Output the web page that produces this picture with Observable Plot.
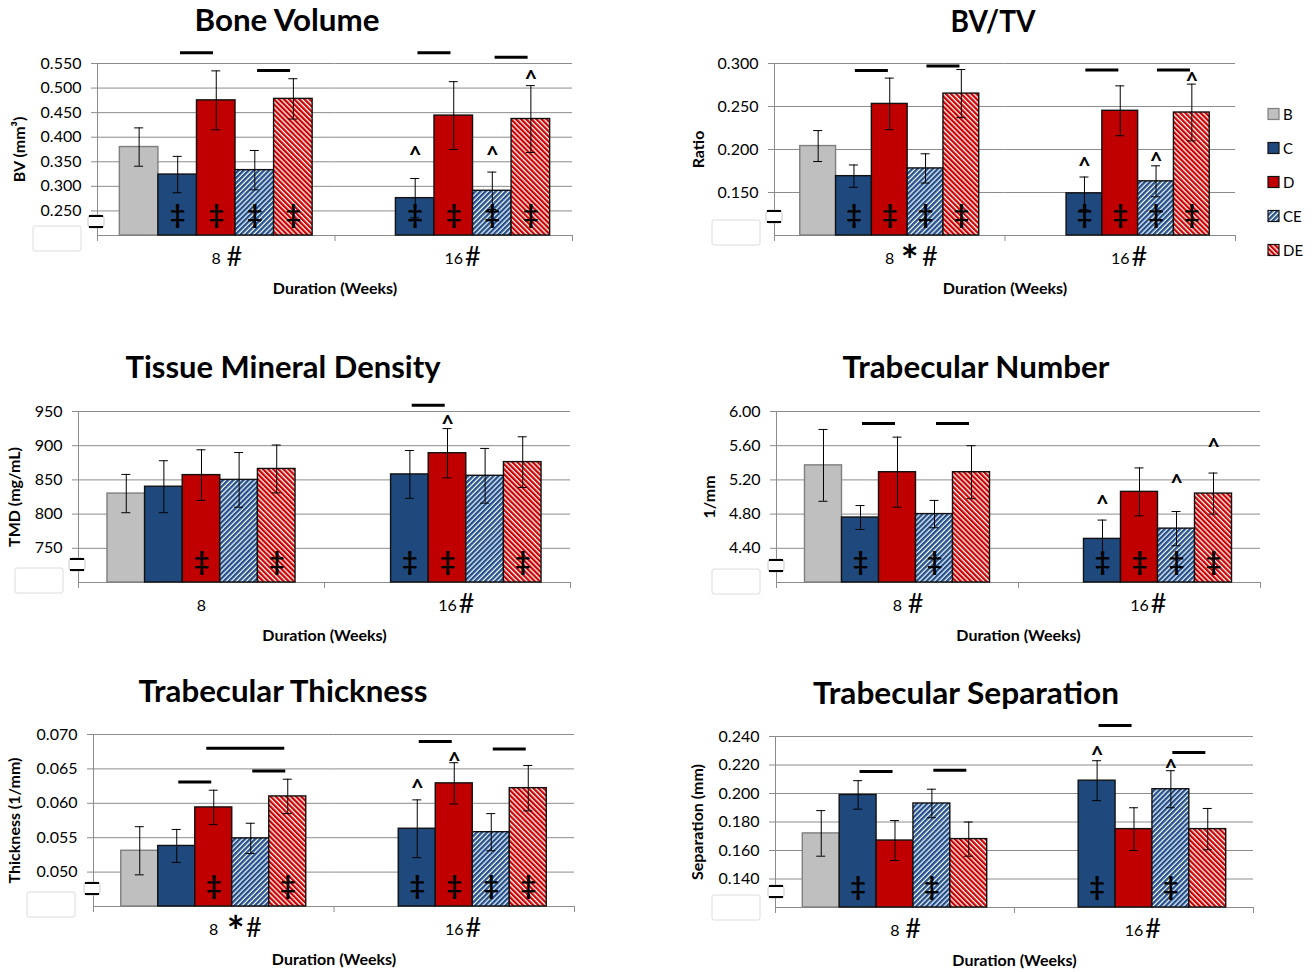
<!DOCTYPE html>
<html><head><meta charset="utf-8">
<script src="https://cdn.jsdelivr.net/npm/d3@7"></script>
<script src="https://cdn.jsdelivr.net/npm/@observablehq/plot@0.6"></script>
<style>
body{margin:0;background:#fff;font-family:Lato,"Open Sans",sans-serif;}
#root{position:relative;width:1315px;height:972px;overflow:hidden;}
#root .panel{position:absolute;}
#overlay{position:absolute;left:0;top:0;pointer-events:none;}
g[aria-label="y-axis label"] text, g[aria-label="fx-axis label"] text{font-weight:bold;}
</style></head>
<body>
<svg width="0" height="0" style="position:absolute">
 <defs>
  <pattern id="pCE" patternUnits="userSpaceOnUse" width="3.6" height="3.6" patternTransform="rotate(45)">
   <rect width="3.6" height="3.6" fill="#ffffff"/><rect width="2.4" height="3.6" fill="#24508c"/>
  </pattern>
  <pattern id="pDE" patternUnits="userSpaceOnUse" width="3.6" height="3.6" patternTransform="rotate(-45)">
   <rect width="3.6" height="3.6" fill="#ffffff"/><rect width="2.3" height="3.6" fill="#cc0000"/>
  </pattern>
 </defs>
</svg>
<div id="root"></div>
<script>
// ---------------- DATA ----------------
const groups = ["B", "C", "D", "CE", "DE"];
const durations = ["8", "16"];

// Bone Volume (mm^3)
const bvMean8 = [0.380, 0.324, 0.475, 0.333, 0.478];
const bvErr8 = [0.039, 0.037, 0.060, 0.040, 0.041];
const bvMean16 = [null, 0.276, 0.444, 0.291, 0.437];
const bvErr16 = [null, 0.040, 0.069, 0.038, 0.068];
const bvTicks = [0.25, 0.30, 0.35, 0.40, 0.45, 0.50, 0.55];
const bvDagger = [["8", "C"], ["8", "D"], ["8", "CE"], ["8", "DE"], ["16", "C"], ["16", "D"], ["16", "CE"], ["16", "DE"]];
const bvCaret = [["16", "C", 0.372], ["16", "CE", 0.372], ["16", "DE", 0.526]];
const bvSig = [["8", "C", "D", 0.572], ["8", "CE", "DE", 0.536], ["16", "C", "D", 0.572], ["16", "CE", "DE", 0.5625]];
const bvSuffix = ["#", "#"];

// BV/TV ratio
const bvtvMean8 = [0.204, 0.169, 0.253, 0.178, 0.265];
const bvtvErr8 = [0.018, 0.013, 0.030, 0.017, 0.028];
const bvtvMean16 = [null, 0.149, 0.245, 0.163, 0.243];
const bvtvErr16 = [null, 0.019, 0.029, 0.018, 0.033];
const bvtvTicks = [0.15, 0.20, 0.25, 0.30];
const bvtvDagger = [["8", "C"], ["8", "D"], ["8", "CE"], ["8", "DE"], ["16", "C"], ["16", "D"], ["16", "CE"], ["16", "DE"]];
const bvtvCaret = [["16", "C", 0.185], ["16", "CE", 0.191], ["16", "DE", 0.284]];
const bvtvSig = [["8", "C", "D", 0.292], ["8", "CE", "DE", 0.297], ["16", "C", "D", 0.2925], ["16", "CE", "DE", 0.2925]];
const bvtvSuffix = ["*#", "#"];

// Tissue Mineral Density (mg/mL)
const tmdMean8 = [830, 840, 857, 850, 866];
const tmdErr8 = [28, 38, 37, 40, 35];
const tmdMean16 = [null, 858, 889, 856, 876];
const tmdErr16 = [null, 35, 36, 40, 37];
const tmdTicks = [750, 800, 850, 900, 950];
const tmdDagger = [["8", "D"], ["8", "DE"], ["16", "C"], ["16", "D"], ["16", "DE"]];
const tmdCaret = [["16", "D", 937]];
const tmdSig = [["16", "C", "D", 959]];
const tmdSuffix = ["", "#"];

// Trabecular Number (1/mm)
const tbnMean8 = [5.37, 4.76, 5.29, 4.80, 5.29];
const tbnErr8 = [0.42, 0.14, 0.41, 0.16, 0.31];
const tbnMean16 = [null, 4.51, 5.06, 4.63, 5.04];
const tbnErr16 = [null, 0.22, 0.28, 0.20, 0.24];
const tbnTicks = [4.4, 4.8, 5.2, 5.6, 6.0];
const tbnDagger = [["8", "C"], ["8", "CE"], ["16", "C"], ["16", "D"], ["16", "CE"], ["16", "DE"]];
const tbnCaret = [["16", "C", 4.96], ["16", "CE", 5.21], ["16", "DE", 5.63]];
const tbnSig = [["8", "C", "D", 5.86], ["8", "CE", "DE", 5.86]];
const tbnSuffix = ["#", "#"];

// Trabecular Thickness (1/mm)
const tbthMean8 = [0.0531, 0.0538, 0.0594, 0.0549, 0.0610];
const tbthErr8 = [0.0035, 0.0024, 0.0025, 0.0022, 0.0025];
const tbthMean16 = [null, 0.0563, 0.0629, 0.0558, 0.0622];
const tbthErr16 = [null, 0.0042, 0.0030, 0.0027, 0.0033];
const tbthTicks = [0.050, 0.055, 0.060, 0.065, 0.070];
const tbthDagger = [["8", "D"], ["8", "DE"], ["16", "C"], ["16", "D"], ["16", "CE"], ["16", "DE"]];
const tbthCaret = [["16", "C", 0.0628], ["16", "D", 0.0668]];
const tbthSig = [["8", "C", "D", 0.0631], ["8", "CE", "DE", 0.0647], ["8", "D", "DE", 0.0680], ["16", "C", "D", 0.0690], ["16", "CE", "DE", 0.0679]];
const tbthSuffix = ["*#", "#"];

// Trabecular Separation (mm)
const tbspMean8 = [0.172, 0.199, 0.167, 0.193, 0.168];
const tbspErr8 = [0.016, 0.010, 0.014, 0.010, 0.012];
const tbspMean16 = [null, 0.209, 0.175, 0.203, 0.175];
const tbspErr16 = [null, 0.014, 0.015, 0.013, 0.0145];
const tbspTicks = [0.14, 0.16, 0.18, 0.20, 0.22, 0.24];
const tbspDagger = [["8", "C"], ["8", "CE"], ["16", "C"], ["16", "CE"]];
const tbspCaret = [["16", "C", 0.230], ["16", "CE", 0.221]];
const tbspSig = [["8", "C", "D", 0.2155], ["8", "CE", "DE", 0.2164], ["16", "C", "D", 0.2477], ["16", "CE", "DE", 0.2288]];
const tbspSuffix = ["#", "#"];

const panels = [
  {id: "bv", title: "Bone Volume", ylabel: "BV (mm³)", domain: [0.2, 0.55], ticks: bvTicks, fmt: ".3f",
   mean8: bvMean8, err8: bvErr8, mean16: bvMean16, err16: bvErr16, dagger: bvDagger, caret: bvCaret, sig: bvSig, suffix: bvSuffix},
  {id: "bvtv", title: "BV/TV", ylabel: "Ratio", domain: [0.1, 0.3], ticks: bvtvTicks, fmt: ".3f",
   mean8: bvtvMean8, err8: bvtvErr8, mean16: bvtvMean16, err16: bvtvErr16, dagger: bvtvDagger, caret: bvtvCaret, sig: bvtvSig, suffix: bvtvSuffix},
  {id: "tmd", title: "Tissue Mineral Density", ylabel: "TMD (mg/mL)", domain: [700, 950], ticks: tmdTicks, fmt: "d",
   mean8: tmdMean8, err8: tmdErr8, mean16: tmdMean16, err16: tmdErr16, dagger: tmdDagger, caret: tmdCaret, sig: tmdSig, suffix: tmdSuffix},
  {id: "tbn", title: "Trabecular Number", ylabel: "1/mm", domain: [4.0, 6.0], ticks: tbnTicks, fmt: ".2f",
   mean8: tbnMean8, err8: tbnErr8, mean16: tbnMean16, err16: tbnErr16, dagger: tbnDagger, caret: tbnCaret, sig: tbnSig, suffix: tbnSuffix},
  {id: "tbth", title: "Trabecular Thickness", ylabel: "Thickness (1/mm)", domain: [0.045, 0.070], ticks: tbthTicks, fmt: ".3f",
   mean8: tbthMean8, err8: tbthErr8, mean16: tbthMean16, err16: tbthErr16, dagger: tbthDagger, caret: tbthCaret, sig: tbthSig, suffix: tbthSuffix},
  {id: "tbsp", title: "Trabecular Separation", ylabel: "Separation (mm)", domain: [0.12, 0.24], ticks: tbspTicks, fmt: ".3f",
   mean8: tbspMean8, err8: tbspErr8, mean16: tbspMean16, err16: tbspErr16, dagger: tbspDagger, caret: tbspCaret, sig: tbspSig, suffix: tbspSuffix}
];

// ---------------- LAYOUT / STYLE ----------------
const layout = {
  bv:   {left: 0,   top: 0,   width: 657, height: 300, mL: 97,  mR: 85, mT: 63, mB: 65, po: 0.58, labelOffset: 84, title: [287, 31, 185], brk: [88, 215], box: [33, 226]},
  bvtv: {left: 657, top: 0,   width: 658, height: 300, mL: 117, mR: 80, mT: 63, mB: 65, po: 0.72, labelOffset: 82, title: [993, 32, 85],  brk: [766, 210], box: [712, 220]},
  tmd:  {left: 0,   top: 340, width: 657, height: 320, mL: 78,  mR: 87, mT: 71, mB: 78, po: 0.77, labelOffset: 70, title: [283, 378, 315], brk: [69, 558], box: [15, 568]},
  tbn:  {left: 657, top: 340, width: 658, height: 320, mL: 119, mR: 55, mT: 71, mB: 78, po: 0.77, labelOffset: 73, title: [976, 378, 267], brk: [768, 559], box: [712, 569]},
  tbth: {left: 0,   top: 670, width: 657, height: 302, mL: 93,  mR: 83, mT: 64, mB: 66, po: 0.75, labelOffset: 85, title: [283, 702, 289], brk: [84, 882], box: [27, 892]},
  tbsp: {left: 657, top: 670, width: 658, height: 302, mL: 118, mR: 62, mT: 66, mB: 65, po: 0.74, labelOffset: 84, title: [966, 704, 306], brk: [768, 885], box: [712, 895]}
};
const fills = {B: "#bfbfbf", C: "#1f497d", D: "#c00000", CE: "url(#pCE)", DE: "url(#pDE)"};
const strokes = {B: "#7f7f7f", C: "#111111", D: "#111111", CE: "#111111", DE: "#111111"};
const gridColor = "#8c8c8c";
const FONT = "Lato, 'Open Sans', sans-serif";

function rows(mean, err, dur) {
  return groups.map((g, i) => ({dur, g, m: mean[i], e: err[i]})).filter(d => d.m != null);
}

function drawPanel(p) {
  const L = layout[p.id];
  const [y0, y1] = p.domain;
  const facetW = (L.width - L.mL - L.mR) / 2;
  const step = facetW / (groups.length + 2 * L.po);
  const edge = step * (0.5 + L.po);
  const capInset = (step - 9) / 2;
  const bars = [...rows(p.mean8, p.err8, "8"), ...rows(p.mean16, p.err16, "16")];
  const daggers = p.dagger.map(([dur, g]) => ({dur, g}));
  const carets = p.caret.map(([dur, g, v]) => ({dur, g, v}));
  const sigMarks = p.sig.map(([dur, from, to, v]) => {
    const n = groups.indexOf(to) - groups.indexOf(from) + 1;
    const len = n === 2 ? 33 : 78;
    const inset = (n * step - len) / 2;
    const shift = n === 2 ? 0 : 5;
    return Plot.ruleY([{dur, from, to, v}], {fx: "dur", x1: "from", x2: "to", y: "v", stroke: "black", strokeWidth: 3,
      insetLeft: inset - shift, insetRight: inset + shift});
  });
  const suffixMarks = [];
  durations.forEach((dur, i) => {
    const s = p.suffix[i];
    if (s.includes("*")) {
      suffixMarks.push(Plot.text([{dur, s: "*"}], {fx: "dur", text: "s", frameAnchor: "bottom", dx: p.id === "tbth" ? 22 : 20, dy: 40, fontSize: 42, fontWeight: "bold"}));
      suffixMarks.push(Plot.text([{dur, s: "#"}], {fx: "dur", text: "s", frameAnchor: "bottom", dx: 40, dy: 30, fontSize: 27}));
    } else if (s.includes("#")) {
      suffixMarks.push(Plot.text([{dur, s: "#"}], {fx: "dur", text: "s", frameAnchor: "bottom", dx: dur === "8" ? 18 : 19, dy: 30, fontSize: 27}));
    }
  });

  const chart = Plot.plot({
    width: L.width, height: L.height,
    marginLeft: L.mL, marginRight: L.mR, marginTop: L.mT, marginBottom: L.mB,
    style: {fontFamily: FONT, fontSize: "16px", color: "black", background: "transparent", overflow: "visible"},
    fx: {domain: durations, padding: 0, round: false},
    x: {domain: groups, paddingInner: 0, paddingOuter: L.po, round: false, axis: null},
    y: {domain: p.domain},
    color: {type: "identity"},
    marks: [
      Plot.gridY(p.ticks, {stroke: gridColor, strokeOpacity: 1}),
      Plot.ruleY([y0], {stroke: gridColor}),
      Plot.barY(bars, {fx: "dur", x: "g", y1: () => y0, y2: "m", fill: d => fills[d.g], stroke: d => strokes[d.g], strokeWidth: 1.4}),
      Plot.ruleX(bars, {fx: "dur", x: "g", y1: d => d.m - d.e, y2: d => d.m + d.e, stroke: "black", strokeWidth: 1}),
      Plot.tickY(bars, {fx: "dur", x: "g", y: d => d.m + d.e, stroke: "black", strokeWidth: 1, inset: capInset}),
      Plot.tickY(bars, {fx: "dur", x: "g", y: d => d.m - d.e, stroke: "black", strokeWidth: 1, inset: capInset}),
      Plot.text(daggers, {fx: "dur", x: "g", text: () => "‡", frameAnchor: "bottom", lineAnchor: "middle", dy: -20, fontSize: 27, fontWeight: "bold"}),
      Plot.text(carets, {fx: "dur", x: "g", y: "v", text: () => "^", fontSize: 22, fontWeight: "bold", dy: 5}),
      ...sigMarks,
      Plot.ruleX([{dur: "8"}], {fx: "dur", x: () => "B", y1: () => y0, y2: () => y1, dx: -edge, stroke: gridColor}),
      Plot.ruleX([{dur: "8"}, {dur: "16"}], {fx: "dur", x: () => "B", y1: () => y0, y2: () => y0, dx: -edge, insetBottom: -6, stroke: gridColor}),
      Plot.ruleX([{dur: "16"}], {fx: "dur", x: () => "DE", y1: () => y0, y2: () => y0, dx: edge, insetBottom: -6, stroke: gridColor}),
      Plot.axisY(p.ticks, {tickSize: 6, tickPadding: 10, tickFormat: d3.format(p.fmt), fontSize: 16, stroke: gridColor,
        label: p.ylabel, labelAnchor: "center", labelOffset: L.labelOffset, labelArrow: "none"}),
      Plot.axisFx({anchor: "bottom", tickSize: 0, tickPadding: 17, fontSize: 16,
        label: "Duration (Weeks)", labelAnchor: "center", labelOffset: 58, labelArrow: "none"}),
      ...suffixMarks
    ]
  });
  const wrap = document.createElement("div");
  wrap.className = "panel";
  wrap.style.left = L.left + "px";
  wrap.style.top = L.top + "px";
  wrap.appendChild(chart);
  document.getElementById("root").appendChild(wrap);
}

panels.forEach(drawPanel);

// overlay: titles, legend, axis-break glyphs
const NS = "http://www.w3.org/2000/svg";
const ov = document.createElementNS(NS, "svg");
ov.setAttribute("id", "overlay");
ov.setAttribute("width", 1315);
ov.setAttribute("height", 972);
function el(tag, attrs, text) {
  const e = document.createElementNS(NS, tag);
  for (const k in attrs) e.setAttribute(k, attrs[k]);
  if (text != null) e.textContent = text;
  ov.appendChild(e);
  return e;
}
panels.forEach(p => {
  const L = layout[p.id];
  const [tx, ty, tl] = L.title;
  el("text", {x: tx, y: ty, "text-anchor": "middle", "font-family": FONT, "font-weight": "bold", "font-size": 30,
    textLength: tl, lengthAdjust: "spacingAndGlyphs", fill: "#000"}, p.title);
  const [bx, by] = L.brk;
  el("rect", {x: bx, y: by, width: 16, height: 13, rx: 3, fill: "#fff", stroke: "#bbb", "stroke-width": 0.8});
  el("line", {x1: bx + 1, x2: bx + 15, y1: by + 1, y2: by + 1, stroke: "#000", "stroke-width": 2});
  el("line", {x1: bx + 1, x2: bx + 15, y1: by + 12, y2: by + 12, stroke: "#000", "stroke-width": 2});
  const [qx, qy] = L.box;
  el("rect", {x: qx, y: qy, width: 48, height: 25, rx: 2, fill: "#fff", stroke: "#dcdcdc", "stroke-width": 1});
});
// legend
const legendY = [114, 148, 182, 216, 250];
groups.forEach((g, i) => {
  el("rect", {x: 1268, y: legendY[i] - 5.5, width: 11, height: 11, fill: fills[g], stroke: strokes[g], "stroke-width": 1.2});
  el("text", {x: 1283, y: legendY[i] + 5.5, "font-family": FONT, "font-size": 15, fill: "#000"}, g);
});
document.getElementById("root").appendChild(ov);
</script>
</body></html>
